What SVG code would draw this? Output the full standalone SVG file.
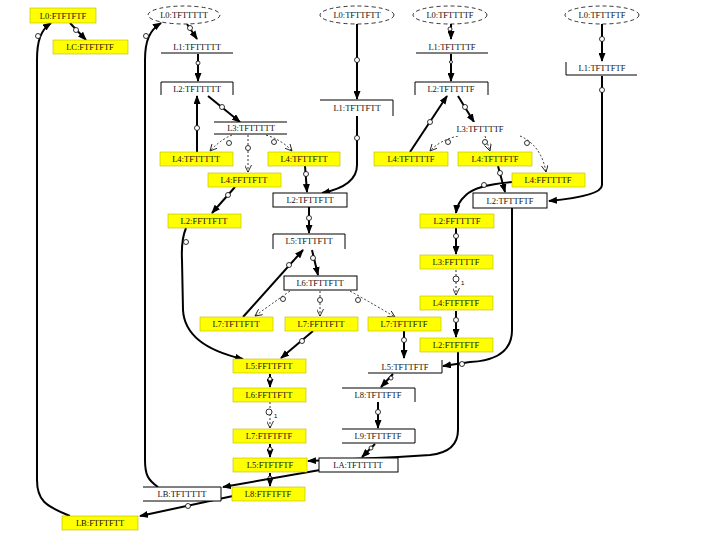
<svg xmlns="http://www.w3.org/2000/svg" width="720" height="540" viewBox="0 0 720 540">
<style>
.t{font-family:"Liberation Serif","DejaVu Serif",serif;font-size:8.5px;text-anchor:middle;fill:#111}
.y{fill:#ffff00;stroke:#b8b800;stroke-width:0.6}
.w{fill:#fff;stroke:none}
.e{fill:none;stroke:#000;stroke-width:1}
.el{fill:#fff;stroke:#000;stroke-width:0.8;stroke-dasharray:4 3}
.s{fill:none;stroke:#000;stroke-width:2;marker-end:url(#ah)}
.sn{fill:none;stroke:#000;stroke-width:2}
.d{fill:none;stroke:#000;stroke-width:0.8;stroke-dasharray:2 2;marker-end:url(#oh)}
.c{fill:#fff;stroke:#000;stroke-width:0.8}
.n{font-family:"Liberation Sans",sans-serif;font-size:6px;fill:#000}
</style>
<defs>
<marker id="ah" markerUnits="userSpaceOnUse" markerWidth="9" markerHeight="7" refX="8" refY="3.5" orient="auto"><path d="M0,0 L9,3.5 L0,7 z" fill="#000"/></marker>
<marker id="oh" markerUnits="userSpaceOnUse" markerWidth="8" markerHeight="7" refX="7" refY="3.5" orient="auto"><path d="M0,0 L7,3.5 L0,7" fill="none" stroke="#000" stroke-width="0.8"/></marker>
</defs>
<rect width="720" height="540" fill="#fff"/>

<g id="connectors">
<path class="s" d="M70,23 L86,40"/><circle class="c" cx="76" cy="30" r="2.5"/>
<path class="s" d="M70,516 C45,506 37,500 37,480 L37,60 C37,40 41,30 51,23"/><circle class="c" cx="38" cy="36" r="2.5"/>
<path class="s" d="M158,487 C148,480 145,475 145,460 L145,60 C145,40 150,30 161,23"/><circle class="c" cx="146" cy="36" r="2.5"/>
<path class="s" d="M187,24 L197,39"/><circle class="c" cx="190" cy="28" r="2.5"/>
<path class="s" d="M198,54 L198,81"/><circle class="c" cx="198" cy="63" r="2"/>
<path class="s" d="M197,152 L197,96"/><circle class="c" cx="197" cy="128" r="2.5"/>
<path class="s" d="M208,96 L240,122"/><circle class="c" cx="222" cy="107" r="2.5"/>
<path class="d" d="M232,135 Q220,140 210,151"/><circle class="c" cx="229" cy="143" r="2.5"/>
<path class="d" d="M248,135 L248,172"/><circle class="c" cx="248" cy="148" r="2.5"/>
<path class="d" d="M266,135 Q282,140 292,151"/><circle class="c" cx="274" cy="142" r="2.5"/>
<path class="s" d="M305,166 L307,192"/><circle class="c" cx="306" cy="174" r="2.5"/>
<path class="s" d="M357,116 L357,165 Q357,186 322,193"/><circle class="c" cx="357" cy="138" r="2.5"/>
<path class="s" d="M357,24 L357,99"/><circle class="c" cx="357" cy="60" r="2.5"/>
<path class="s" d="M235,187 L212,213"/><circle class="c" cx="228" cy="195" r="2.5"/>
<path class="s" d="M309,207 L309,233"/><circle class="c" cx="309" cy="218" r="2.5"/>
<path class="s" d="M312,250 L318,275"/><circle class="c" cx="313" cy="258" r="2.5"/>
<path class="s" d="M243,317 L303,250"/><circle class="c" cx="289" cy="265" r="2.5"/>
<path class="d" d="M290,291 Q270,305 255,316"/><circle class="c" cx="283" cy="299" r="2.5"/>
<path class="d" d="M320,291 L320,316"/><circle class="c" cx="320" cy="300" r="2.5"/>
<path class="d" d="M350,291 Q375,305 395,317"/><circle class="c" cx="358" cy="300" r="2.5"/>
<path class="s" d="M186,228 Q181,240 182,260 L183,310 Q185,346 243,359"/><circle class="c" cx="186" cy="242" r="2.5"/>
<path class="s" d="M313,331 L281,358"/><circle class="c" cx="302" cy="341" r="2.5"/>
<path class="s" d="M270,374 L270,387"/><circle class="c" cx="270" cy="379" r="2"/>
<path class="d" d="M270,402 L270,428"/><circle class="c" cx="269" cy="412" r="3"/><text class="n" x="274" y="418">1</text>
<path class="s" d="M270,444 L270,457"/><circle class="c" cx="270" cy="449" r="2"/>
<path class="s" d="M270,473 L270,486"/><circle class="c" cx="270" cy="478" r="2"/>
<path class="s" d="M320,470 L223,487"/>
<path class="s" d="M233,496 L140,516"/><circle class="c" cx="188" cy="506" r="2.5"/>
<path class="s" d="M375,444 L362,457"/><circle class="c" cx="371" cy="448" r="2"/>
<path class="s" d="M458,352 L458,430 Q458,452 430,455 L398,457 L308,461"/>
<path class="s" d="M512,208 L512,330 Q512,360 470,362 L443,366"/><circle class="c" cx="462" cy="364" r="2.5"/>
<path class="s" d="M404,331 L404,358"/><circle class="c" cx="404" cy="340" r="2.5"/>
<path class="s" d="M393,374 L381,387"/><circle class="c" cx="391" cy="378" r="2"/>
<path class="s" d="M378,402 L378,428"/><circle class="c" cx="378" cy="412" r="2.5"/>
<path class="s" d="M451,24 L451,39"/><circle class="c" cx="450" cy="29" r="2"/>
<path class="s" d="M451,54 L451,81"/><circle class="c" cx="451" cy="62" r="1.5"/>
<path class="s" d="M410,152 L447,96"/><circle class="c" cx="430" cy="122" r="2.5"/>
<path class="s" d="M458,96 L474,122"/><circle class="c" cx="465" cy="107" r="2.5"/>
<path class="d" d="M458,136 Q440,140 430,151"/><circle class="c" cx="448" cy="142" r="2.5"/>
<path class="d" d="M485,136 L490,151"/><circle class="c" cx="485" cy="142" r="2.5"/>
<path class="d" d="M520,136 Q541,145 546,172"/><circle class="c" cx="527" cy="143" r="2.5"/>
<path class="s" d="M498,166 L505,192"/><circle class="c" cx="500" cy="173" r="2.5"/>
<path class="s" d="M512,182 Q476,185 466,195 Q457,203 456,213"/><circle class="c" cx="484" cy="185" r="2.5"/>
<path class="s" d="M602,76 L602,185 Q602,196 549,201"/><circle class="c" cx="602" cy="90" r="2.5"/>
<path class="s" d="M602,24 L602,61"/><circle class="c" cx="602" cy="39" r="2.5"/>
<path class="s" d="M456,228 L456,254"/><circle class="c" cx="456" cy="236" r="2.5"/>
<path class="d" d="M456,270 L456,295"/><circle class="c" cx="456" cy="279" r="3"/><text class="n" x="461" y="285">1</text>
<path class="s" d="M456,311 L456,337"/><circle class="c" cx="456" cy="320" r="2.5"/>
</g>

<g id="n_L0_FTFTFTF"><rect class="y" x="30" y="8" width="66" height="15"/><text class="t" x="63" y="18.5">L0:FTFTFTF</text></g>
<g id="n_L0_TFTTTTT"><ellipse class="el" cx="184" cy="15" rx="36" ry="9"/><text class="t" x="184" y="18">L0:TFTTTTT</text></g>
<g id="n_L0_TFTTFTT"><ellipse class="el" cx="357" cy="15" rx="37" ry="9"/><text class="t" x="357" y="18">L0:TFTTFTT</text></g>
<g id="n_L0_TFTTTTF"><ellipse class="el" cx="450" cy="15" rx="37" ry="9"/><text class="t" x="450" y="18">L0:TFTTTTF</text></g>
<g id="n_L0_TFTTFTF"><ellipse class="el" cx="602" cy="15" rx="37" ry="9"/><text class="t" x="602" y="18">L0:TFTTFTF</text></g>
<g id="n_LC_FTFTFTF"><rect class="y" x="53" y="40" width="75" height="14"/><text class="t" x="90" y="50">LC:FTFTFTF</text></g>

<g id="n_L1_TFTTTTT"><rect class="w" x="161" y="40" width="72" height="13"/><path class="e" d="M161,53 L233,53"/><text class="t" x="197" y="50">L1:TFTTTTT</text></g>
<g id="n_L1_TFTTTTF"><rect class="w" x="416" y="40" width="72" height="13"/><path class="e" d="M416,53 L488,53"/><text class="t" x="452" y="50">L1:TFTTTTF</text></g>
<g id="n_L1_TFTTFTF"><rect class="w" x="566" y="62" width="71" height="13"/><path class="e" d="M566,62 L566,75 L637,75"/><text class="t" x="602" y="71">L1:TFTTFTF</text></g>
<g id="n_L2_TFTTTTT"><rect class="w" x="161" y="82" width="72" height="13"/><path class="e" d="M161,95 L161,82 L233,82 L233,95"/><text class="t" x="197" y="91.5">L2:TFTTTTT</text></g>
<g id="n_L2_TFTTTTF"><rect class="w" x="415" y="82" width="73" height="13"/><path class="e" d="M415,95 L415,82 L488,82 L488,95"/><text class="t" x="451" y="91.5">L2:TFTTTTF</text></g>
<g id="n_L1_TFTTFTT"><rect class="w" x="320" y="100" width="73" height="16"/><path class="e" d="M320,100 L393,100 L393,116"/><text class="t" x="357" y="111">L1:TFTTFTT</text></g>

<g id="n_L3_TFTTTTT"><rect class="w" x="214" y="122" width="73" height="12"/><path class="e" d="M214,122 L287,122 M214,134 L287,134"/><text class="t" x="251" y="131">L3:TFTTTTT</text></g>
<g id="n_L3_TFTTTTF"><rect class="w" x="443" y="122" width="74" height="14" stroke="#000" stroke-width="1"/><text class="t" x="480" y="132">L3:TFTTTTF</text></g>

<g id="n_L4_TFTTTTT"><rect class="y" x="160" y="152" width="73" height="14"/><text class="t" x="196" y="162">L4:TFTTTTT</text></g>
<g id="n_L4_TFTTFTT"><rect class="y" x="268" y="152" width="72" height="14"/><text class="t" x="304" y="162">L4:TFTTFTT</text></g>
<g id="n_L4_TFTTTTF"><rect class="y" x="374" y="152" width="74" height="14"/><text class="t" x="411" y="162">L4:TFTTTTF</text></g>
<g id="n_L4_TFTTFTF"><rect class="y" x="458" y="152" width="74" height="14"/><text class="t" x="495" y="162">L4:TFTTFTF</text></g>
<g id="n_L4_FFTTFTT"><rect class="y" x="208" y="173" width="73" height="14"/><text class="t" x="244" y="183">L4:FFTTFTT</text></g>
<g id="n_L4_FFTTTTF"><rect class="y" x="512" y="173" width="73" height="14"/><text class="t" x="548" y="183">L4:FFTTTTF</text></g>

<g id="n_L2_TFTTFTT"><rect x="273" y="193" width="74" height="14" fill="#fff" stroke="#000" stroke-width="1"/><text class="t" x="310" y="203">L2:TFTTFTT</text></g>
<g id="n_L2_TFTTFTF"><rect x="473" y="193" width="74" height="15" fill="#fff" stroke="#000" stroke-width="1"/><text class="t" x="510" y="203.5">L2:TFTTFTF</text></g>
<g id="n_L2_FFTTFTT"><rect class="y" x="168" y="214" width="73" height="14"/><text class="t" x="204" y="224">L2:FFTTFTT</text></g>
<g id="n_L2_FFTTTTF"><rect class="y" x="420" y="214" width="74" height="14"/><text class="t" x="457" y="224">L2:FFTTTTF</text></g>

<g id="n_L5_TFTTFTT"><rect class="w" x="273" y="234" width="72" height="14"/><path class="e" d="M273,249 L273,234 L345,234 L345,249"/><text class="t" x="309" y="244">L5:TFTTFTT</text></g>
<g id="n_L3_FFTTTTF"><rect class="y" x="420" y="255" width="73" height="14"/><text class="t" x="456" y="265">L3:FFTTTTF</text></g>
<g id="n_L6_TFTTFTT"><rect x="284" y="276" width="73" height="14" fill="#fff" stroke="#000" stroke-width="1"/><text class="t" x="320" y="286">L6:TFTTFTT</text></g>
<g id="n_L4_FTFTFTF"><rect class="y" x="420" y="296" width="73" height="14"/><text class="t" x="456" y="306">L4:FTFTFTF</text></g>

<g id="n_L7_TFTTFTT"><rect class="y" x="200" y="317" width="73" height="14"/><text class="t" x="236" y="327">L7:TFTTFTT</text></g>
<g id="n_L7_FFTTFTT"><rect class="y" x="285" y="317" width="73" height="14"/><text class="t" x="321" y="327">L7:FFTTFTT</text></g>
<g id="n_L7_TFTTFTF"><rect class="y" x="368" y="317" width="73" height="14"/><text class="t" x="404" y="327">L7:TFTTFTF</text></g>
<g id="n_L2_FTFTFTF"><rect class="y" x="420" y="338" width="73" height="14"/><text class="t" x="456" y="348">L2:FTFTFTF</text></g>

<g id="n_L5_FFTTFTT"><rect class="y" x="233" y="359" width="73" height="14"/><text class="t" x="269" y="369">L5:FFTTFTT</text></g>
<g id="n_L5_TFTTFTF"><rect class="w" x="368" y="360" width="74" height="13"/><path class="e" d="M368,373 L442,373 L442,360"/><text class="t" x="405" y="369.5">L5:TFTTFTF</text></g>
<g id="n_L6_FFTTFTT"><rect class="y" x="233" y="388" width="73" height="14"/><text class="t" x="269" y="398">L6:FFTTFTT</text></g>
<g id="n_L8_TFTTFTF"><rect class="w" x="342" y="388" width="73" height="14"/><path class="e" d="M342,388 L415,388 L415,402"/><text class="t" x="378" y="398">L8:TFTTFTF</text></g>
<g id="n_L7_FTFTFTF"><rect class="y" x="233" y="429" width="73" height="14"/><text class="t" x="269" y="439">L7:FTFTFTF</text></g>
<g id="n_L9_TFTTFTF"><rect class="w" x="342" y="429" width="73" height="14"/><path class="e" d="M342,429 L415,429 L415,443 L342,443"/><text class="t" x="378" y="439">L9:TFTTFTF</text></g>
<g id="n_L5_FTFTFTF"><rect class="y" x="233" y="458" width="74" height="14"/><text class="t" x="270" y="468">L5:FTFTFTF</text></g>
<g id="n_LA_TFTTTTT"><rect x="319" y="458" width="79" height="14" fill="#fff" stroke="#000" stroke-width="1"/><text class="t" x="358" y="468">LA:TFTTTTT</text></g>
<g id="n_LB_TFTTTTT"><rect class="w" x="143" y="487" width="78" height="14"/><path class="e" d="M143,487 L221,487 L221,501 L143,501"/><text class="t" x="182" y="497">LB:TFTTTTT</text></g>
<g id="n_L8_FTFTFTF"><rect class="y" x="232" y="487" width="73" height="14"/><text class="t" x="268" y="497">L8:FTFTFTF</text></g>
<g id="n_LB_FTFTFTT"><rect class="y" x="62" y="516" width="76" height="14"/><text class="t" x="100" y="526">LB:FTFTFTT</text></g>
</svg>
